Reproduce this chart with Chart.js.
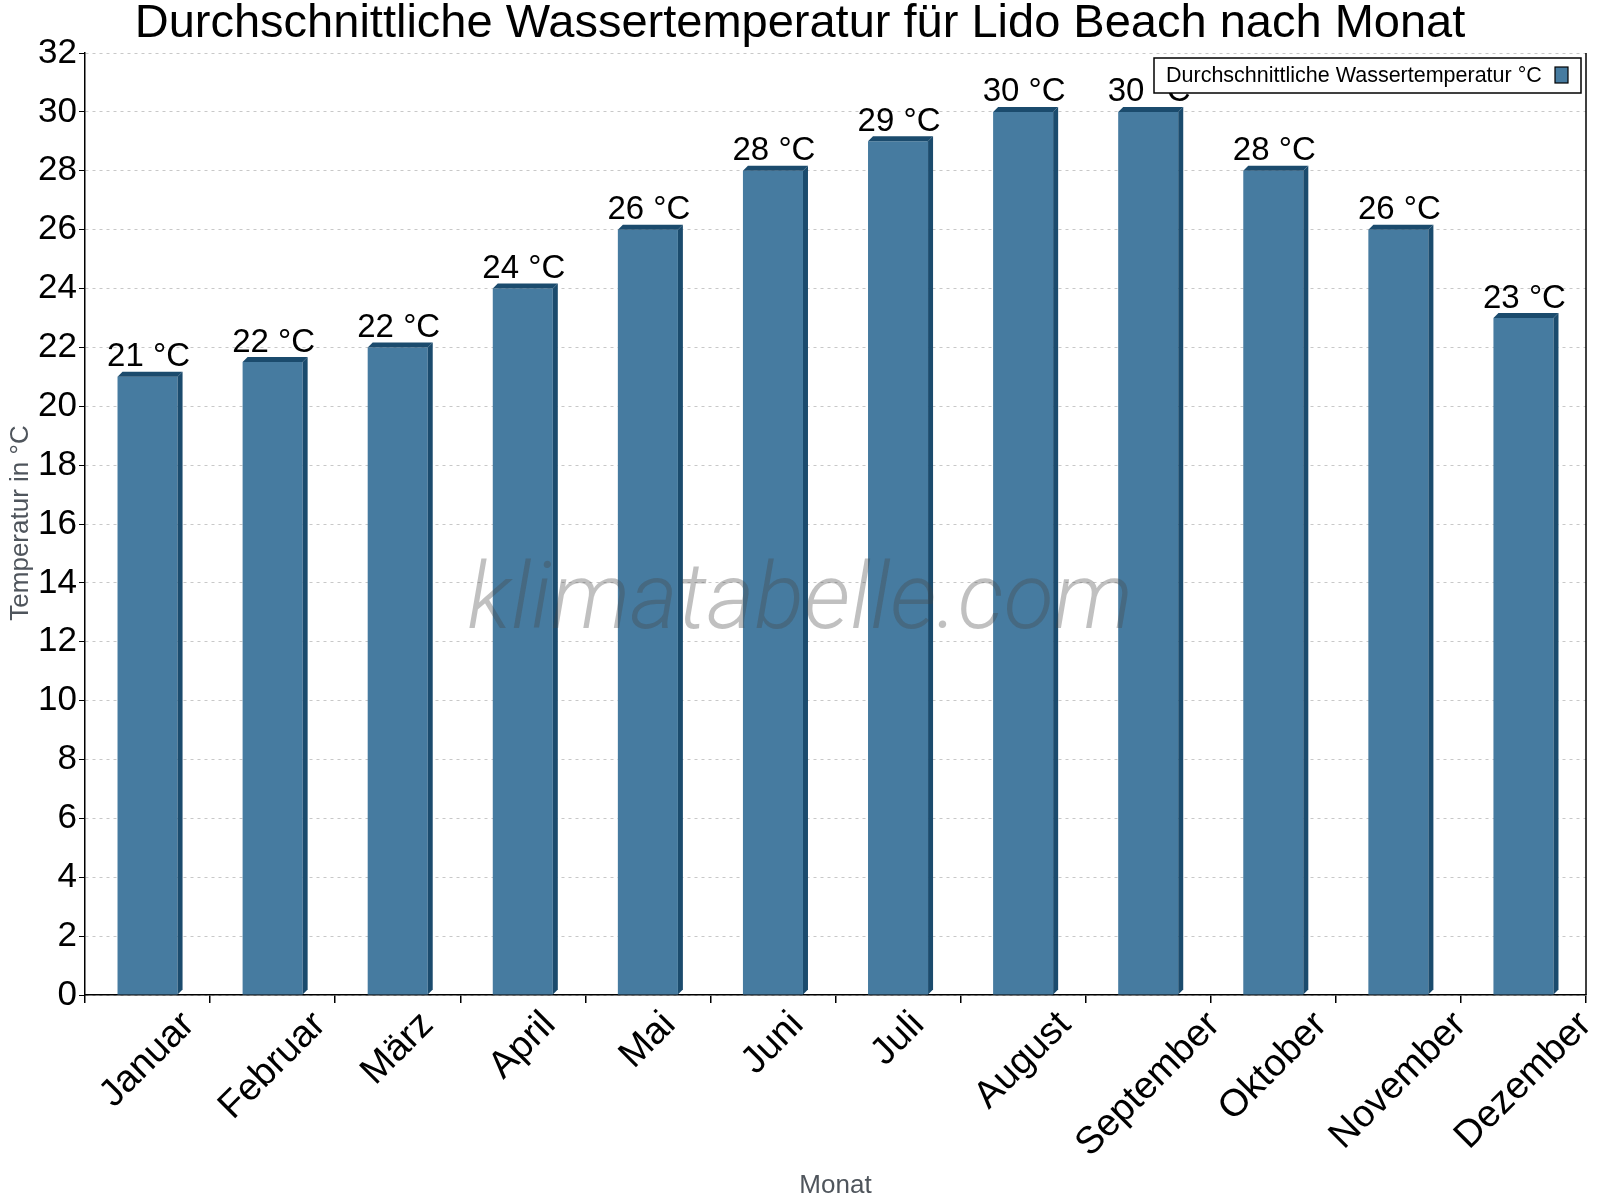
<!DOCTYPE html>
<html>
<head>
<meta charset="utf-8">
<script src="https://cdn.jsdelivr.net/npm/chart.js@4"></script>
<style>
  html, body { margin: 0; padding: 0; background: #fff; }
  #wrap { width: 1600px; height: 1200px; }
</style>
</head>
<body>
<div id="wrap"><canvas id="myChart" width="1600" height="1200"></canvas></div>
<script>
const chartTitle = "Durchschnittliche Wassertemperatur für Lido Beach nach Monat";
const months = ["Januar", "Februar", "März", "April", "Mai", "Juni", "Juli",
    "August", "September", "Oktober", "November", "Dezember"];
const waterTemp = [21, 21.5, 22, 24, 26, 28, 29, 30, 30, 28, 26, 23];
const seriesLabel = "Durchschnittliche Wassertemperatur °C";
const yTitle = "Temperatur in °C";
const xTitle = "Monat";
const watermark = "klimatabelle.com";

const FRONT = "#467ba0";
const DARK = "#1b4b6d";
const FONT = "'Liberation Sans', Arial, sans-serif";

// draws the fake 3d sides, value labels, month labels, titles, legend
const decoPlugin = {
    id: "deco",
    afterDatasetsDraw(chart) {
        const ctx = chart.ctx;
        const area = chart.chartArea;
        const meta = chart.getDatasetMeta(0);
        const d = 5;

        meta.data.forEach((bar, i) => {
            const l = bar.x - bar.width / 2;
            const r = bar.x + bar.width / 2;
            const top = bar.y;
            const base = bar.base;
            ctx.save();
            ctx.fillStyle = DARK;
            ctx.beginPath();
            ctx.moveTo(r, top);
            ctx.lineTo(r + d, top - d);
            ctx.lineTo(r + d, base - d);
            ctx.lineTo(r, base);
            ctx.closePath();
            ctx.fill();
            ctx.beginPath();
            ctx.moveTo(l, top);
            ctx.lineTo(l + d, top - d);
            ctx.lineTo(r + d, top - d);
            ctx.lineTo(r, top);
            ctx.closePath();
            ctx.fill();

            ctx.fillStyle = "#000";
            ctx.font = "33px " + FONT;
            ctx.textAlign = "center";
            ctx.textBaseline = "bottom";
            ctx.fillText(Math.round(waterTemp[i]) + " °C", bar.x + 1, top - 3);
            ctx.restore();
        });

        // watermark
        ctx.save();
        ctx.font = "italic 300 92px Roboto";
        ctx.fillStyle = "rgba(70,70,70,0.34)";
        ctx.textAlign = "center";
        ctx.textBaseline = "alphabetic";
        ctx.fillText(watermark, 800, 628);
        ctx.restore();

        // right border
        ctx.save();
        ctx.strokeStyle = "#000";
        ctx.lineWidth = 1.5;
        ctx.beginPath();
        ctx.moveTo(area.right, area.top);
        ctx.lineTo(area.right, area.bottom);
        ctx.stroke();
        ctx.restore();
    },
    afterDraw(chart) {
        const ctx = chart.ctx;
        const area = chart.chartArea;
        const xScale = chart.scales.x;
        ctx.save();

        // month labels, rotated about their centre, top edge just under the axis
        ctx.fillStyle = "#000";
        ctx.font = "38px " + FONT;
        ctx.textAlign = "center";
        ctx.textBaseline = "middle";
        months.forEach((m, i) => {
            const w = ctx.measureText(m).width;
            const cx = xScale.getPixelForValue(i);
            const cy = area.bottom + 14 + (w + 28) * 0.3536;
            ctx.save();
            ctx.translate(cx, cy);
            ctx.rotate(-Math.PI / 4);
            ctx.fillText(m, 0, 0);
            ctx.restore();
        });

        // title
        ctx.fillStyle = "#000";
        ctx.font = "47px " + FONT;
        ctx.textAlign = "center";
        ctx.textBaseline = "middle";
        ctx.fillText(chartTitle, 800, 24);

        // axis titles
        ctx.fillStyle = "#4f555c";
        ctx.font = "26px " + FONT;
        ctx.fillText(xTitle, (area.left + area.right) / 2, 1186);
        ctx.save();
        ctx.translate(21, 523);
        ctx.rotate(-Math.PI / 2);
        ctx.fillText(yTitle, 0, 0);
        ctx.restore();

        // legend
        const lx = 1154, ly = 58, lw = 427, lh = 35;
        ctx.fillStyle = "#fff";
        ctx.fillRect(lx, ly, lw, lh);
        ctx.strokeStyle = "#000";
        ctx.lineWidth = 1.5;
        ctx.strokeRect(lx, ly, lw, lh);
        ctx.fillStyle = "#000";
        ctx.font = "21.5px " + FONT;
        ctx.textAlign = "left";
        ctx.fillText(chart.data.datasets[0].label, lx + 12, ly + lh / 2 + 1);
        ctx.fillStyle = FRONT;
        ctx.fillRect(1555, 67, 13, 16);
        ctx.lineWidth = 1.2;
        ctx.strokeRect(1555, 67, 13, 16);
        ctx.restore();
    }
};

const chartElement = document.getElementById("myChart");
new Chart(chartElement, {
    type: "bar",
    data: {
        labels: months,
        datasets: [{
            label: seriesLabel,
            data: waterTemp,
            backgroundColor: FRONT,
            borderWidth: 0,
            categoryPercentage: 1,
            barPercentage: 0.48
        }]
    },
    options: {
        responsive: false,
        animation: false,
        devicePixelRatio: 1,
        layout: { padding: { top: 53, right: 14, left: 0, bottom: 0 } },
        plugins: {
            legend: { display: false },
            title: { display: false },
            tooltip: { enabled: false }
        },
        scales: {
            x: {
                afterFit(scale) { scale.height = 205; },
                grid: {
                    offset: true,
                    drawOnChartArea: false,
                    drawTicks: true,
                    tickLength: 8,
                    color: "#000",
                    lineWidth: 1.5
                },
                border: { color: "#000", width: 1.5 },
                ticks: { display: false, autoSkip: false }
            },
            y: {
                min: 0,
                max: 32,
                afterFit(scale) { scale.width = 85; },
                grid: {
                    color: "#c8c8c8",
                    tickColor: "#000",
                    tickLength: 6,
                    tickBorderDash: [],
                    lineWidth: 1
                },
                border: { color: "#000", width: 1.5, dash: [3, 4] },
                ticks: {
                    stepSize: 2,
                    color: "#000",
                    font: { family: FONT, size: 35 },
                    padding: 2
                }
            }
        }
    },
    plugins: [decoPlugin]
});
</script>
</body>
</html>
